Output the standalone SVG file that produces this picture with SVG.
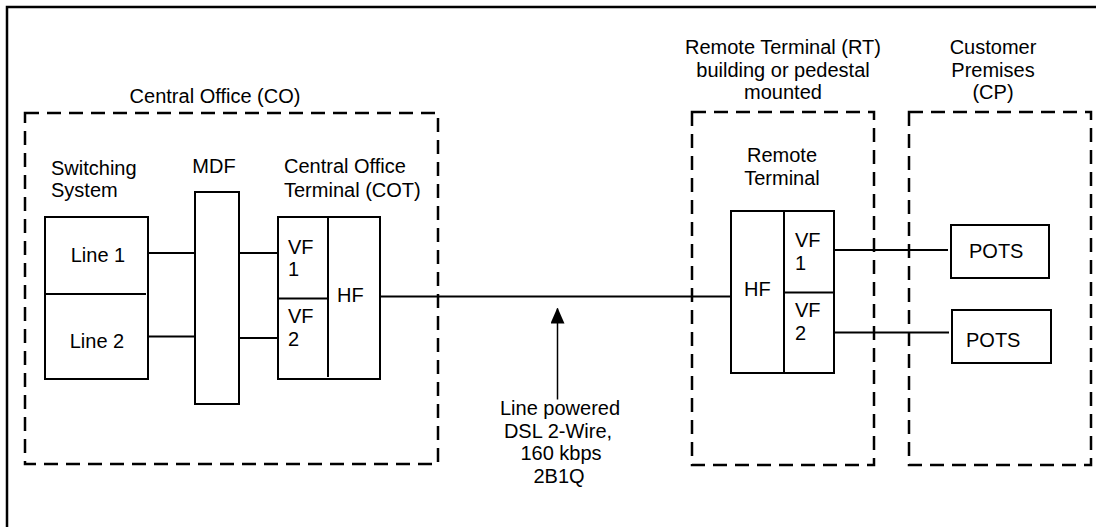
<svg xmlns="http://www.w3.org/2000/svg" width="1096" height="527" viewBox="0 0 1096 527">
<defs>
<style>
text{font-family:"Liberation Sans",Arial,sans-serif;font-size:20px;fill:#000}
.m{text-anchor:middle}
.box{fill:#fff;stroke:#000;stroke-width:2}
.dash{fill:none;stroke:#000;stroke-width:2.5;stroke-dasharray:14 8}
.ln{fill:none;stroke:#000;stroke-width:2}
</style>
<marker id="ah" viewBox="0 0 16 14" refX="15" refY="7" markerWidth="16" markerHeight="14" markerUnits="userSpaceOnUse" orient="auto">
<path d="M0,0 L16,7 L0,14 Z" fill="#000"/>
</marker>
</defs>
<rect width="1096" height="527" fill="#fff"/>
<rect x="7" y="7" width="1100" height="540" fill="none" stroke="#000" stroke-width="2.5"/>

<g id="co">
<rect class="dash" x="25" y="113" width="413" height="351"/>
<text class="m" x="215" y="103">Central Office (CO)</text>
</g>
<g id="rt-area">
<rect class="dash" x="692" y="112" width="182" height="353"/>
<text class="m" x="783" y="54">Remote Terminal (RT)</text>
<text class="m" x="783" y="76.5">building or pedestal</text>
<text class="m" x="783" y="99">mounted</text>
</g>
<g id="cp-area">
<rect class="dash" x="909" y="112" width="182" height="353"/>
<text class="m" x="993" y="54">Customer</text>
<text class="m" x="993" y="76.5">Premises</text>
<text class="m" x="993" y="99">(CP)</text>
</g>

<g id="switching">
<text x="51" y="175">Switching</text>
<text x="51" y="197">System</text>
<rect class="box" x="45" y="217" width="103" height="162"/>
<line class="ln" x1="44" y1="294" x2="146" y2="294"/>
<text class="m" x="98" y="262">Line 1</text>
<text class="m" x="97" y="348">Line 2</text>
</g>
<g id="mdf">
<text class="m" x="214" y="173">MDF</text>
<rect class="box" x="195" y="192" width="44" height="212"/>
</g>
<g id="cot">
<text x="284" y="173">Central Office</text>
<text x="284" y="197">Terminal (COT)</text>
<rect class="box" x="278" y="217" width="102" height="162"/>
<line class="ln" x1="328" y1="218" x2="328" y2="377"/>
<line class="ln" x1="278" y1="298.5" x2="328" y2="298.5"/>
<text x="288" y="253.5">VF</text>
<text x="288" y="276">1</text>
<text x="288" y="323">VF</text>
<text x="288" y="346">2</text>
<text x="337" y="302">HF</text>
</g>
<g id="rt">
<text class="m" x="782" y="162">Remote</text>
<text class="m" x="782" y="185">Terminal</text>
<rect class="box" x="731" y="211" width="103" height="162"/>
<line class="ln" x1="784" y1="212" x2="784" y2="372"/>
<line class="ln" x1="784" y1="292.5" x2="834" y2="292.5"/>
<text x="744" y="296">HF</text>
<text x="795" y="247">VF</text>
<text x="795" y="269.5">1</text>
<text x="795" y="317">VF</text>
<text x="795" y="340">2</text>
</g>
<g id="pots1">
<rect class="box" x="951" y="225" width="98" height="53"/>
<text x="969" y="257.5">POTS</text>
</g>
<g id="pots2">
<rect class="box" x="952" y="310" width="99" height="53"/>
<text x="966" y="347">POTS</text>
</g>

<g id="connectors">
<line class="ln" x1="148" y1="253" x2="195" y2="253"/>
<line class="ln" x1="147" y1="336.5" x2="195" y2="336.5"/>
<line class="ln" x1="239" y1="253" x2="278" y2="253"/>
<line class="ln" x1="239" y1="338" x2="278" y2="338"/>
<line class="ln" x1="380" y1="296.5" x2="732" y2="296.5"/>
<line class="ln" x1="834" y1="250" x2="948" y2="250"/>
<line class="ln" x1="834" y1="332.5" x2="949" y2="332.5"/>
<line x1="557.5" y1="399.5" x2="557.5" y2="308.5" stroke="#000" stroke-width="1.5" marker-end="url(#ah)"/>
</g>
<g id="dsl-label">
<text class="m" x="560" y="415">Line powered</text>
<text class="m" x="558" y="437.5">DSL 2-Wire,</text>
<text class="m" x="561" y="460">160 kbps</text>
<text class="m" x="559" y="482.5">2B1Q</text>
</g>
</svg>
